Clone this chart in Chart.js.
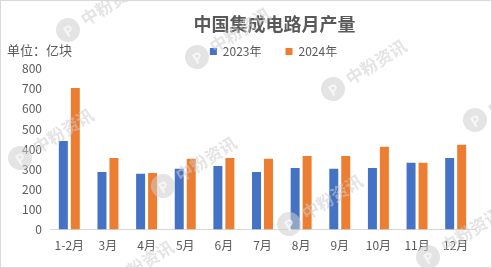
<!DOCTYPE html>
<html>
<head>
<meta charset="utf-8">
<script src="https://cdn.jsdelivr.net/npm/chart.js@4"></script>
<style>
  html, body { margin: 0; padding: 0; background: #fff; }
  #wrap { width: 492px; height: 268px; box-sizing: border-box; border: 1px solid #d9d9d9; position: relative; }
  canvas { display: block; }
</style>
</head>
<body>
<div id="wrap"><canvas id="chart" width="490" height="266"></canvas></div>
<script>
// Data
const months = ['1-2月', '3月', '4月', '5月', '6月', '7月', '8月', '9月', '10月', '11月', '12月'];
const output2023 = [440, 286, 277, 302, 316, 286, 306, 302, 306, 332, 356];
const output2024 = [704, 356, 281, 352, 356, 352, 366, 366, 412, 332, 421];
const yTicks = [0, 100, 200, 300, 400, 500, 600, 700, 800];

// Watermark anchor points (logo centres)
const markX = [68, 197, 333, 475, 20, 163, 289, 428, 100];
const markY = [30, 57, 89, 120, 158, 186, 224, 257, 290];

const labelFont = "'Noto Sans CJK SC', 'Noto Sans', sans-serif";
const textColor = '#595959';
const markColor = 'rgba(205,205,205,0.55)';

// Shift title and legend, draw unit label and watermarks
const extrasPlugin = {
    id: 'extras',
    afterLayout(chart) {
        if (chart.titleBlock) {
            chart.titleBlock.left += 12;
            chart.titleBlock.right += 12;
            chart.titleBlock.top += 12;
            chart.titleBlock.bottom += 12;
        }
        if (chart.legend) {
            chart.legend.left += 11;
            chart.legend.right += 11;
            chart.legend.top -= 1;
            chart.legend.bottom -= 1;
        }
    },
    afterDraw(chart) {
        const ctx = chart.ctx;
        ctx.save();
        ctx.fillStyle = textColor;
        ctx.font = "13px " + labelFont;
        ctx.textAlign = 'left';
        ctx.textBaseline = 'middle';
        ctx.fillText('单位：亿块', 6, 49);

        // watermarks
        markX.forEach((x, i) => {
            ctx.save();
            ctx.translate(x - 1, markY[i] - 1);
            ctx.rotate(-32 * Math.PI / 180);
            ctx.fillStyle = markColor;
            ctx.beginPath();
            ctx.arc(0, 0, 12, 0, Math.PI * 2);
            ctx.fill();
            ctx.fillStyle = 'rgba(255,255,255,0.7)';
            ctx.font = "bold 14px " + labelFont;
            ctx.textAlign = 'center';
            ctx.fillText('P', 0, 1);
            ctx.fillStyle = markColor;
            ctx.font = "bold 17px " + labelFont;
            ctx.textAlign = 'left';
            ctx.fillText('中粉资讯', 17, 0);
            ctx.restore();
        });
        ctx.restore();
    }
};

const ctx = document.getElementById('chart').getContext('2d');
new Chart(ctx, {
    type: 'bar',
    data: {
        labels: months,
        datasets: [
            {
                label: '2023年',
                data: output2023,
                backgroundColor: '#4472C4',
                categoryPercentage: 0.62,
                barPercentage: 0.75
            },
            {
                label: '2024年',
                data: output2024,
                backgroundColor: '#ED7D31',
                categoryPercentage: 0.62,
                barPercentage: 0.75
            }
        ]
    },
    options: {
        responsive: false,
        animation: false,
        layout: {
            padding: { left: 0, right: 16, top: 0, bottom: 5 }
        },
        plugins: {
            title: {
                display: true,
                fullSize: false,
                text: '中国集成电路月产量',
                color: textColor,
                font: { family: labelFont, size: 18, weight: 'bold' },
                padding: 0
            },
            legend: {
                display: true,
                fullSize: false,
                labels: {
                    color: textColor,
                    font: { family: labelFont, size: 12 },
                    boxWidth: 7,
                    boxHeight: 7,
                    padding: 24
                }
            },
            tooltip: { enabled: false }
        },
        scales: {
            x: {
                grid: { display: false, drawTicks: false },
                border: { display: true, color: '#d9d9d9' },
                ticks: {
                    color: textColor,
                    font: { family: labelFont, size: 12 },
                    padding: 9,
                    maxRotation: 0,
                    autoSkip: false
                }
            },
            y: {
                min: 0,
                max: 800,
                afterBuildTicks(scale) {
                    scale.ticks = yTicks.map(v => ({ value: v }));
                },
                afterFit(scale) {
                    scale.width = 49;
                },
                grid: { display: false, drawTicks: false },
                border: { display: false },
                ticks: {
                    color: textColor,
                    font: { family: labelFont, size: 12 },
                    padding: 8
                }
            }
        }
    },
    plugins: [extrasPlugin]
});
</script>
</body>
</html>
